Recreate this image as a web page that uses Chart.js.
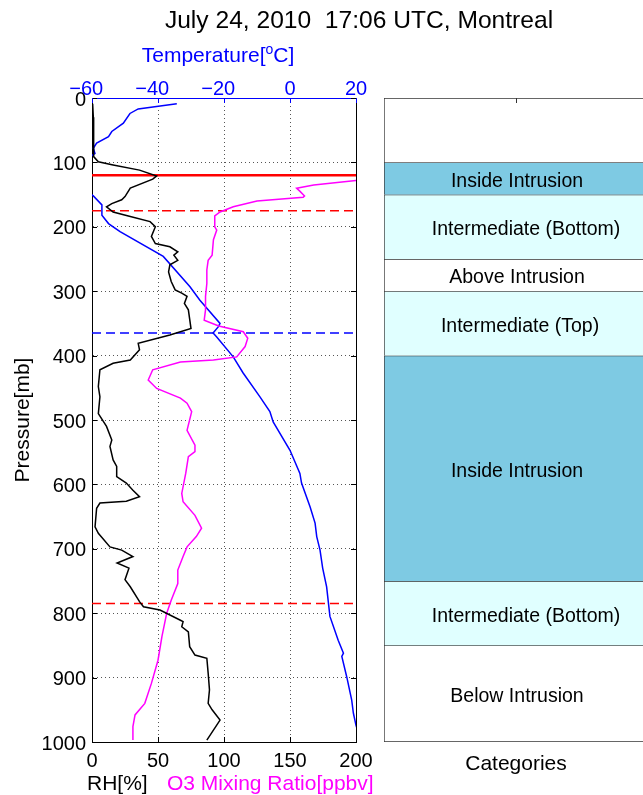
<!DOCTYPE html>
<html>
<head>
<meta charset="utf-8">
<title>Montreal sounding</title>
<script src="https://cdn.jsdelivr.net/npm/chart.js@4.4.1/dist/chart.umd.min.js"></script>
<style>
    html, body { margin: 0; padding: 0; background: #fff; overflow: hidden; width: 643px; height: 795px; }
    #profile { position: absolute; left: 0; top: 0; }
    #categories { position: absolute; left: 370px; top: 0; }
</style>
</head>
<body>
<canvas id="profile" width="643" height="795"></canvas>
<canvas id="categories" width="290" height="795"></canvas>
<script>
// relative humidity [%] vs pressure [mb]
const rhPressure = [9, 30, 60, 91, 99, 104, 112, 121, 126, 140, 153, 158, 164, 169, 177, 184, 192, 200, 215, 226, 231, 239, 244, 252, 259, 270, 285, 298, 303, 308, 319, 329, 358, 368, 381, 391, 407, 412, 422, 448, 464, 490, 510, 531, 541, 562, 572, 588, 598, 609, 619, 626, 629, 637, 666, 676, 697, 702, 712, 722, 730, 748, 759, 782, 790, 795, 811, 813, 821, 829, 852, 865, 870, 893, 919, 940, 950, 966, 997];
const rhValues = [0.5, 1, 1, 1.5, 4.8, 16, 36, 49, 46, 29, 25, 22.5, 15, 11, 16, 29, 44, 48, 45, 48, 59, 65, 62, 65, 59, 58, 60, 63, 68, 72, 70, 73, 75, 59, 35, 36, 29, 16, 6, 4.8, 6, 4.8, 11, 15, 13.6, 16, 18.7, 18.7, 26, 31, 36, 26, 6, 3.5, 2.3, 4.8, 13.6, 22.5, 31, 19, 28, 25, 29, 36, 39, 51.5, 67, 69, 68, 73, 74, 78, 87, 88, 89, 88, 91, 97, 87];

// ozone mixing ratio [ppbv] vs pressure [mb]
const o3Pressure = [122, 128, 135, 140, 145, 152, 154, 160, 169, 177, 183, 200, 205, 220, 244, 252, 267, 288, 308, 329, 345, 354, 363, 373, 386, 402, 407, 410, 422, 438, 451, 466, 474, 487, 516, 539, 549, 557, 583, 614, 627, 648, 668, 681, 697, 712, 733, 754, 780, 800, 836, 873, 909, 940, 958, 976, 997];
const o3Values = [225, 200, 168, 155, 157.6, 161, 160, 125, 107, 97, 93, 93, 94.5, 92, 91, 88, 87, 87, 86, 86, 85, 96, 114.6, 118, 116, 109.6, 92, 67, 46, 42.6, 49, 67, 72, 75.5, 72, 78, 78, 73, 71, 68, 69, 78, 83, 79, 72, 69, 65, 65, 60, 56.6, 53, 50, 45, 40, 32.6, 31, 31];

// temperature [C] vs pressure [mb]
const tempPressure = [9, 17, 24, 39, 52, 60, 70, 78, 86, 100, 140, 152, 166, 182, 195, 207.5, 246, 293, 314, 350, 355, 365, 371, 402, 427, 464, 487, 503, 547, 583, 598, 635, 660, 681, 702, 730, 759, 805, 842, 862, 867, 899, 935, 955, 974, 990];
const tempValues = [-34.3, -46, -48.5, -50.5, -54, -55, -58.6, -59.6, -59.1, -63, -63, -59.6, -57, -57, -55, -51.5, -38.4, -30.3, -27.3, -21.2, -21.7, -23.3, -22.2, -17.2, -14.2, -9.1, -6.1, -5.1, 0, 3, 3.5, 6.1, 7.6, 8.1, 9.1, 9.9, 11.1, 12.1, 14.6, 16.2, 15.7, 17.2, 18.7, 19.2, 20, 21];

// marked pressure levels [mb]
const levelPressure = [120, 175, 365, 785];

// category column
const bandNames = ['', 'Inside Intrusion', 'Intermediate (Bottom)', 'Above Intrusion', 'Intermediate (Top)', 'Inside Intrusion', 'Intermediate (Bottom)', 'Below Intrusion'];
const bandTop = [0, 100, 150, 250, 300, 400, 750, 850];
const bandBottom = [100, 150, 250, 300, 400, 750, 850, 1000];

const FONT = '"Liberation Sans", Arial, Helvetica, sans-serif';
Chart.defaults.font.family = FONT;
Chart.defaults.font.size = 20;
Chart.defaults.color = '#000';

const pairs = (xs, ps) => xs.map((v, i) => ({ x: v, y: ps[i] }));
const levelStyle = [
    { color: '#ff0000', dash: [], width: 2.5 },
    { color: '#ff0000', dash: [9, 5], width: 1.5 },
    { color: '#0000ff', dash: [9, 5], width: 1.5 },
    { color: '#ff0000', dash: [9, 5], width: 1.5 },
];

const profileFrame = {
    id: 'profileFrame',
    afterDraw(chart) {
        const { ctx, chartArea: a, scales } = chart;
        ctx.save();
        ctx.lineWidth = 1;
        ctx.strokeStyle = '#000';
        ctx.beginPath();
        ctx.moveTo(Math.round(a.right) + 0.5, a.top);
        ctx.lineTo(Math.round(a.right) + 0.5, a.bottom);
        // inward ticks, matlab style
        scales.y.ticks.forEach((t) => {
            const py = Math.round(scales.y.getPixelForValue(t.value)) + 0.5;
            ctx.moveTo(a.left, py); ctx.lineTo(a.left + 5, py);
            ctx.moveTo(a.right, py); ctx.lineTo(a.right - 5, py);
        });
        scales.xb.ticks.forEach((t) => {
            const px = Math.round(scales.xb.getPixelForValue(t.value)) + 0.5;
            ctx.moveTo(px, a.bottom); ctx.lineTo(px, a.bottom - 5);
        });
        ctx.stroke();
        ctx.strokeStyle = '#0000ff';
        ctx.beginPath();
        scales.xt.ticks.forEach((t) => {
            const px = Math.round(scales.xt.getPixelForValue(t.value)) + 0.5;
            ctx.moveTo(px, a.top); ctx.lineTo(px, a.top + 5);
        });
        ctx.stroke();

        // temperature tick labels: digits centred on the tick, minus hangs left
        ctx.fillStyle = '#0000ff';
        ctx.font = '20px ' + FONT;
        ctx.textBaseline = 'alphabetic';
        scales.xt.ticks.forEach((t) => {
            const px = scales.xt.getPixelForValue(t.value);
            const digits = String(Math.abs(t.value));
            ctx.textAlign = 'center';
            ctx.fillText(digits, px, 95);
            if (t.value < 0) {
                ctx.textAlign = 'right';
                ctx.fillText('\u2212', px - ctx.measureText(digits).width / 2, 95);
            }
        });

        // title
        ctx.fillStyle = '#000';
        ctx.textAlign = 'center';
        ctx.font = '24.6px ' + FONT;
        ctx.fillText('July 24, 2010  17:06 UTC, Montreal', 359, 27.5);

        // temperature axis title with superscript o
        ctx.fillStyle = '#0000ff';
        ctx.textAlign = 'left';
        ctx.font = '21px ' + FONT;
        const p1 = 'Temperature[', p3 = 'C]';
        const w1 = ctx.measureText(p1).width, w3 = ctx.measureText(p3).width;
        ctx.font = '14px ' + FONT;
        const w2 = ctx.measureText('o').width;
        let tx = 218 - (w1 + w2 + w3) / 2;
        ctx.font = '21px ' + FONT;
        ctx.fillText(p1, tx, 62);
        ctx.font = '14px ' + FONT;
        ctx.fillText('o', tx + w1, 54);
        ctx.font = '21px ' + FONT;
        ctx.fillText(p3, tx + w1 + w2, 62);

        // bottom axis titles
        ctx.fillStyle = '#000';
        ctx.fillText('RH[%]', 87, 790);
        ctx.fillStyle = '#ff00ff';
        ctx.fillText('O3 Mixing Ratio[ppbv]', 167, 790);

        // pressure axis title
        ctx.fillStyle = '#000';
        ctx.translate(23, (a.top + a.bottom) / 2);
        ctx.rotate(-Math.PI / 2);
        ctx.textAlign = 'center';
        ctx.textBaseline = 'middle';
        ctx.fillText('Pressure[mb]', 0, 0);
        ctx.restore();
    },
};

new Chart(document.getElementById('profile'), {
    type: 'line',
    data: {
        datasets: [
            { label: 'RH', data: pairs(rhValues, rhPressure), xAxisID: 'xb', yAxisID: 'y', borderColor: '#000', borderWidth: 1.5 },
            { label: 'O3', data: pairs(o3Values, o3Pressure), xAxisID: 'xb', yAxisID: 'y', borderColor: '#ff00ff', borderWidth: 1.5 },
            { label: 'Temperature', data: pairs(tempValues, tempPressure), xAxisID: 'xt', yAxisID: 'y', borderColor: '#0000ff', borderWidth: 1.5 },
            ...levelPressure.map((p, i) => ({
                label: 'level ' + p,
                data: [{ x: 0, y: p }, { x: 200, y: p }],
                xAxisID: 'xb',
                yAxisID: 'y',
                borderColor: levelStyle[i].color,
                borderDash: levelStyle[i].dash,
                borderWidth: levelStyle[i].width,
            })),
        ],
    },
    options: {
        responsive: false,
        animation: false,
        events: [],
        elements: { point: { radius: 0 }, line: { tension: 0, borderCapStyle: 'butt' } },
        layout: { padding: { left: 0, top: 0, right: 287, bottom: 0 } },
        plugins: { legend: { display: false }, tooltip: { enabled: false } },
        scales: {
            xb: {
                type: 'linear', position: 'bottom', min: 0, max: 200,
                ticks: { stepSize: 50, padding: 7, color: '#000', maxRotation: 0, callback: (v) => String(v) },
                grid: { color: '#555', drawTicks: false },
                border: { color: '#000', dash: [1, 3] },
                afterFit: (s) => { s.height = 53; },
            },
            xt: {
                type: 'linear', position: 'top', min: -60, max: 20,
                ticks: { stepSize: 20, display: false },
                grid: { display: false, drawTicks: false },
                border: { color: '#0000ff' },
                afterFit: (s) => { s.height = 98; },
            },
            y: {
                type: 'linear', position: 'left', reverse: true, min: 0, max: 1000,
                ticks: { stepSize: 100, padding: 6, labelOffset: 2, color: '#000', callback: (v) => String(v) },
                grid: { color: '#555', drawTicks: false },
                border: { color: '#000', dash: [1, 3] },
                afterFit: (s) => { s.width = 92; },
            },
        },
    },
    plugins: [profileFrame],
});

// category column on the right
const bandColor = (name) => (name.startsWith('Inside') ? '#7ecae3' : name.startsWith('Intermediate') ? '#e0ffff' : '#ffffff');
// matlab placed the longer labels a little right of centre
const bandShift = (name) => (name === 'Intermediate (Bottom)' ? 10 : name === 'Intermediate (Top)' ? 4 : 1);

const bandLabels = {
    id: 'bandLabels',
    afterDraw(chart) {
        const { ctx, chartArea: a } = chart;
        ctx.save();
        ctx.fillStyle = '#000';
        ctx.textAlign = 'center';
        ctx.textBaseline = 'middle';
        ctx.font = '19.5px ' + FONT;
        chart.data.datasets.forEach((ds, i) => {
            if (!ds.label) return;
            const el = chart.getDatasetMeta(i).data[0];
            const { x, y, base } = el.getProps(['x', 'y', 'base'], true);
            ctx.fillText(ds.label, x + bandShift(ds.label), (y + base) / 2 + 3);
        });
        const cx = (a.left + a.right) / 2;
        ctx.strokeStyle = '#333';
        ctx.lineWidth = 1;
        ctx.beginPath();
        ctx.moveTo(Math.round(cx) + 0.5, a.top);
        ctx.lineTo(Math.round(cx) + 0.5, a.top + 5);
        ctx.stroke();
        ctx.textBaseline = 'alphabetic';
        ctx.font = '21px ' + FONT;
        ctx.fillText('Categories', cx, 770);
        ctx.restore();
    },
};

new Chart(document.getElementById('categories'), {
    type: 'bar',
    data: {
        labels: ['Categories'],
        datasets: bandNames.map((name, i) => ({
            label: name,
            data: [[bandTop[i], bandBottom[i]]],
            backgroundColor: bandColor(name),
            borderColor: '#333',
            borderWidth: { top: 1, left: 1, right: 1, bottom: i === bandNames.length - 1 ? 1 : 0 },
            borderSkipped: false,
            grouped: false,
            barPercentage: 1,
            categoryPercentage: 1,
        })),
    },
    options: {
        responsive: false,
        animation: false,
        events: [],
        layout: { padding: { left: 14, right: 12, top: 98, bottom: 53 } },
        plugins: { legend: { display: false }, tooltip: { enabled: false } },
        scales: {
            x: { display: false },
            y: { display: false, reverse: true, min: 0, max: 1000 },
        },
    },
    plugins: [bandLabels],
});
</script>
</body>
</html>
